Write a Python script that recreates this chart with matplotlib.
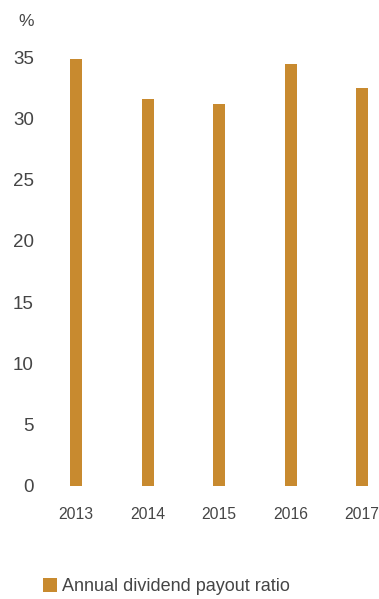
#!/usr/bin/env python3
# Annual dividend payout ratio bar chart

import matplotlib
matplotlib.use('Agg')
import matplotlib.pyplot as plt
import numpy as np

years = ['2013', '2014', '2015', '2016', '2017']
payout_ratio = [34.8, 31.6, 31.2, 34.4, 32.5]
y_ticks = [0, 5, 10, 15, 20, 25, 30, 35]
series_label = 'Annual dividend payout ratio'

bar_color = '#C88A2F'
text_color = '#454545'

plt.rcParams['font.family'] = ['Liberation Sans', 'DejaVu Sans']

W, H = 379, 599
fig = plt.figure(figsize=(W / 100, H / 100), dpi=100)

# axes placed in pixel terms: y=0 at 486px, y=35 at 57px
left_px, right_px = 40, 379
top_px, bottom_px = 57, 486
ax = fig.add_axes((left_px / W, (H - bottom_px) / H,
                   (right_px - left_px) / W, (bottom_px - top_px) / H))

x = np.arange(len(years))
bars = ax.bar(x, payout_ratio, width=12 / 71.5, color=bar_color, label=series_label)

# x mapping: 0 -> 76px, 4 -> 362px
step = 71.5
ax.set_xlim((left_px - 76) / step, (right_px - 76) / step)
ax.set_ylim(0, 35)

ax.set_xticks(x)
ax.set_xticklabels(years, fontsize=11.3, color=text_color)
ax.tick_params(axis='x', length=0, pad=15)
ax.set_yticks(y_ticks)
ax.set_yticklabels([str(t) for t in y_ticks], fontsize=13.5, color=text_color)
ax.tick_params(axis='y', length=0, pad=4.5)

for s in ax.spines.values():
    s.set_visible(False)

fig.text(34 / W, 1 - 22 / H, '%', ha='right', va='center', fontsize=12.5, color=text_color)

fig.legend(handles=[bars], loc='upper left', bbox_to_anchor=(27 / W, 1 - 562 / H),
           frameon=False, fontsize=13, handlelength=0.75, handleheight=0.75,
           handletextpad=0.3, labelcolor=text_color)

fig.savefig('out.png', dpi=100)
